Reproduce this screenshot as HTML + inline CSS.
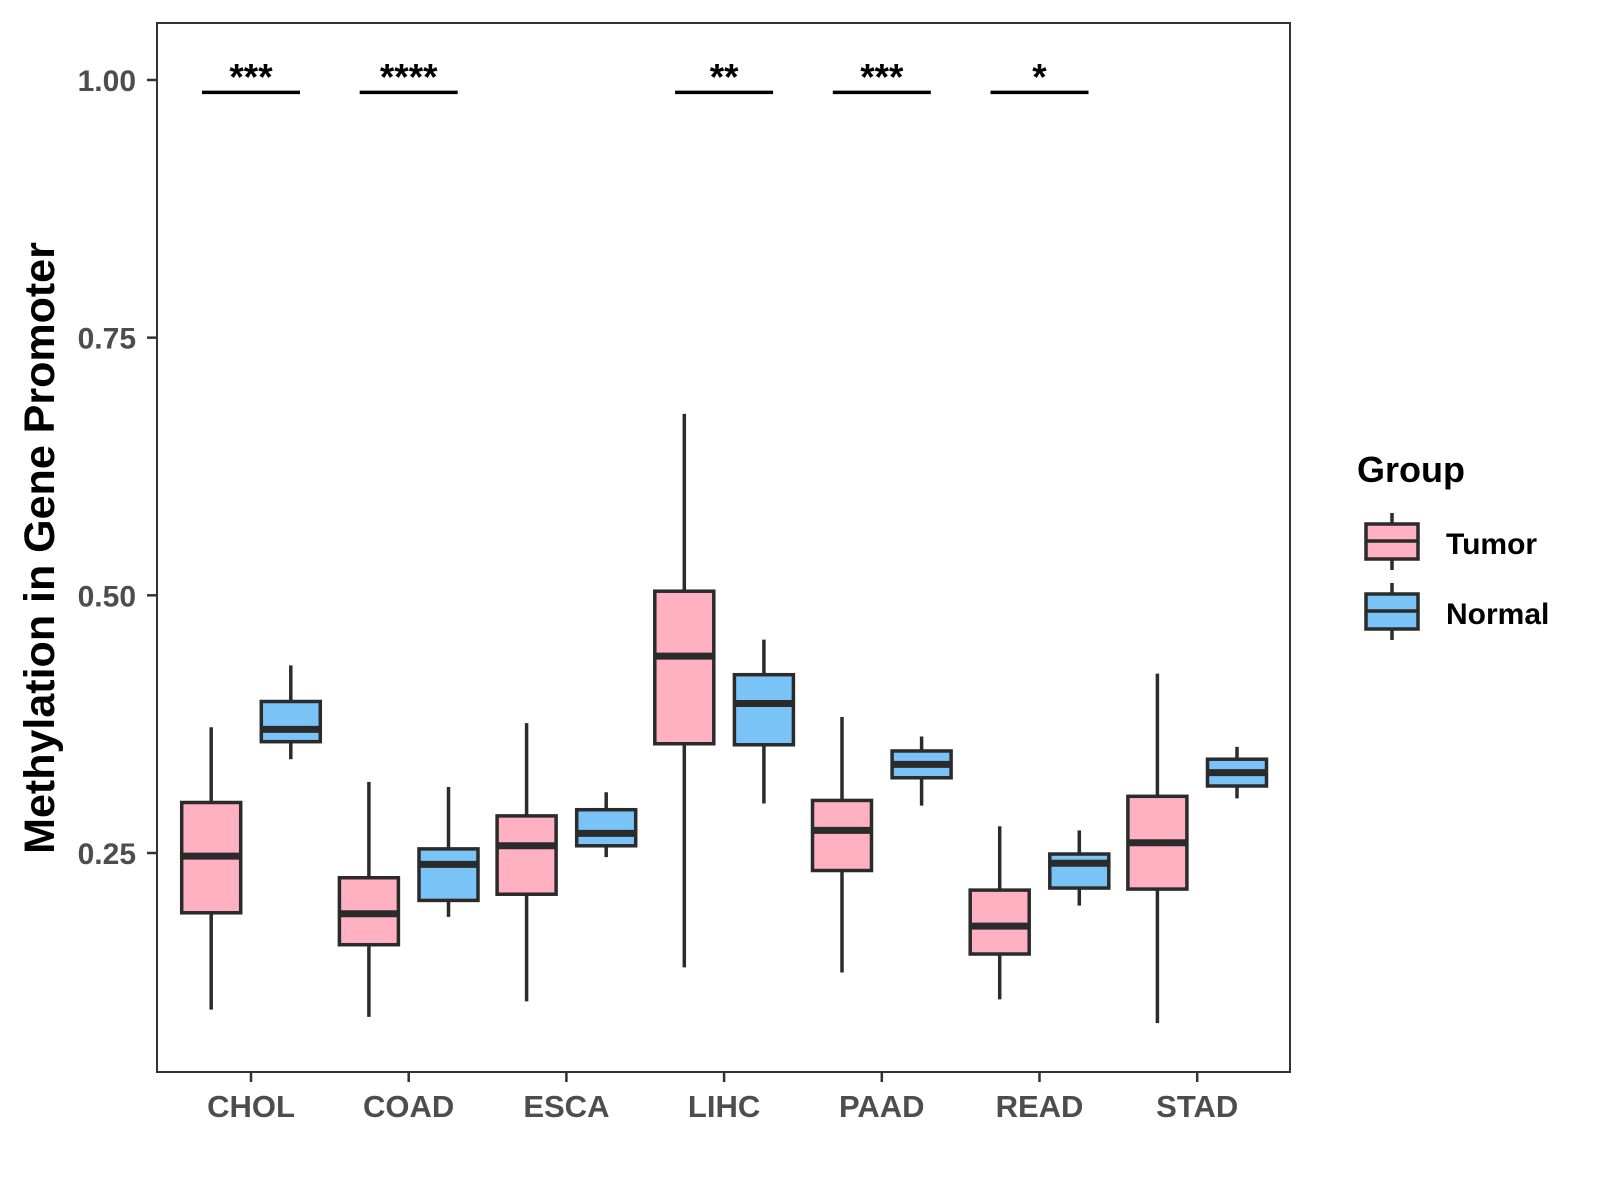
<!DOCTYPE html>
<html><head><meta charset="utf-8"><style>body{margin:0;background:#fff}svg{display:block}text{font-family:"Liberation Sans",sans-serif;font-weight:bold}</style></head>
<body>
<svg id="chart" width="1600" height="1200" viewBox="0 0 1600 1200" xmlns="http://www.w3.org/2000/svg">
<rect x="157" y="23" width="1133" height="1049" fill="#fff" stroke="#333" stroke-width="2"/>
<g id="marks"></g>
<text x="54" y="548" transform="rotate(-90 54 548)" text-anchor="middle" font-size="43" fill="#000">Methylation in Gene Promoter</text>
<text x="1357" y="482" font-size="36" fill="#000">Group</text>
<g>
<line x1="1392" y1="513" x2="1392" y2="570" stroke="#2b2b2b" stroke-width="3.5"/>
<rect x="1366" y="524" width="52" height="35" fill="#FFB0C1" stroke="#2b2b2b" stroke-width="3.5"/>
<line x1="1366" y1="541" x2="1418" y2="541" stroke="#2b2b2b" stroke-width="3.5"/>
<text x="1446" y="554" font-size="30" fill="#000">Tumor</text></g>
<g>
<line x1="1392" y1="583" x2="1392" y2="640" stroke="#2b2b2b" stroke-width="3.5"/>
<rect x="1366" y="594" width="52" height="35" fill="#79C3F7" stroke="#2b2b2b" stroke-width="3.5"/>
<line x1="1366" y1="611" x2="1418" y2="611" stroke="#2b2b2b" stroke-width="3.5"/>
<text x="1446" y="624" font-size="30" fill="#000">Normal</text></g>
</svg>
<script>
const categories=["CHOL","COAD","ESCA","LIHC","PAAD","READ","STAD"];
const tumorLow=[0.098,0.091,0.106,0.139,0.134,0.108,0.085];
const tumorQ1=[0.192,0.161,0.210,0.356,0.233,0.152,0.215];
const tumorMed=[0.247,0.191,0.257,0.441,0.272,0.179,0.260];
const tumorQ3=[0.299,0.226,0.286,0.504,0.301,0.214,0.305];
const tumorHigh=[0.372,0.319,0.376,0.676,0.382,0.276,0.424];
const normalLow=[0.341,0.188,0.246,0.298,0.296,0.199,0.303];
const normalQ1=[0.358,0.204,0.257,0.355,0.323,0.216,0.315];
const normalMed=[0.370,0.239,0.269,0.395,0.336,0.240,0.328];
const normalQ3=[0.397,0.254,0.292,0.423,0.349,0.249,0.341];
const normalHigh=[0.432,0.314,0.309,0.457,0.363,0.272,0.353];
const yTicks=[0.25,0.50,0.75,1.00];
const yTickLabels=["0.25","0.50","0.75","1.00"];
const sigLabels=["***","****","","**","***","*",""];
const sigY=[0.988,0.988,null,0.988,0.988,0.988,null];
const NS="http://www.w3.org/2000/svg";
const g=document.getElementById('marks');
function y(v){return 853-(v-0.25)*1030.7;}
function x(i){return 251+i*157.7;}
function mk(tag,at,parent){const e=document.createElementNS(NS,tag);for(const k in at)e.setAttribute(k,at[k]);(parent||g).appendChild(e);return e;}
yTicks.forEach((t,i)=>{
  const tk=mk('line',{x1:147,x2:157,y1:y(t),y2:y(t),stroke:'#333','stroke-width':2.5});
  
  
  const tl=mk('text',{x:136,y:y(t)+11,'text-anchor':'end','font-size':30,fill:'#4d4d4d'});
  tl.textContent=yTickLabels[i];
  
  
});
function box(cx,lo,q1,md,q3,hi,fill,name){
  const gr=mk('g',{});
  
  
  mk('line',{x1:cx,x2:cx,y1:y(hi),y2:y(lo),stroke:'#2b2b2b','stroke-width':3.5},gr);
  mk('rect',{x:cx-29.5,y:y(q3),width:59,height:y(q1)-y(q3),fill:fill,stroke:'#2b2b2b','stroke-width':3.5},gr);
  mk('line',{x1:cx-29.5,x2:cx+29.5,y1:y(md),y2:y(md),stroke:'#2b2b2b','stroke-width':7},gr);
}
categories.forEach((c,i)=>{
  const cx=x(i);
  const tk=mk('line',{x1:cx,x2:cx,y1:1072,y2:1082,stroke:'#333','stroke-width':2.5});
  
  
  const tl=mk('text',{x:cx,y:1117,'text-anchor':'middle','font-size':31,fill:'#4d4d4d'});
  tl.textContent=c;
  
  
  box(cx-39.8,tumorLow[i],tumorQ1[i],tumorMed[i],tumorQ3[i],tumorHigh[i],'#FFB0C1','box-tumor-'+c.toLowerCase());
  box(cx+39.8,normalLow[i],normalQ1[i],normalMed[i],normalQ3[i],normalHigh[i],'#79C3F7','box-normal-'+c.toLowerCase());
  if(sigLabels[i]){
    const br=mk('line',{x1:cx-49,x2:cx+49,y1:y(sigY[i]),y2:y(sigY[i]),stroke:'#000','stroke-width':3.5});
    
    
    const st=mk('text',{x:cx,y:y(sigY[i])-3,'text-anchor':'middle','font-size':37,fill:'#000'});
    st.textContent=sigLabels[i];
    
    
  }
});
</script>
</body></html>
